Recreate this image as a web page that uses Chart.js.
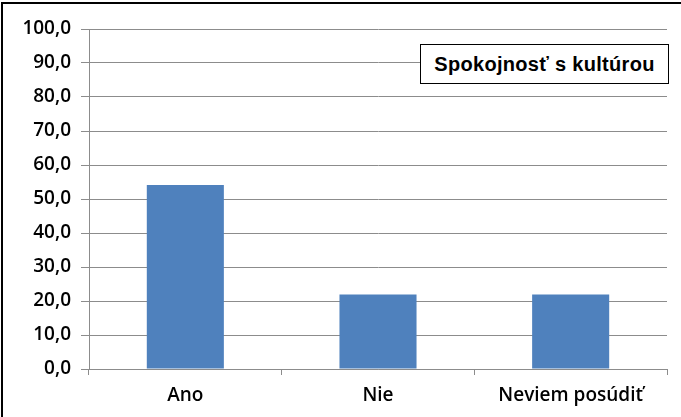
<!DOCTYPE html>
<html>
<head>
<meta charset="utf-8">
<script src="https://cdn.jsdelivr.net/npm/chart.js@4/dist/chart.umd.min.js"></script>
<style>
  html, body { margin: 0; padding: 0; background: #fff; }
  #wrap { position: relative; width: 681px; height: 417px; overflow: hidden; }
  #frame { position: absolute; left: 1px; top: 2px; width: 700px; height: 440px;
    border-left: 2px solid #000; border-top: 2px solid #000; box-sizing: border-box; }
  #legend { position: absolute; left: 420px; top: 44px; width: 249px; height: 40px;
    border: 1px solid #000; background: #fff; box-sizing: border-box;
    font: bold 20px "Liberation Sans", Arial, sans-serif; letter-spacing: 0.3px; color: #000;
    display: flex; align-items: center; justify-content: center; }
  canvas { position: absolute; left: 0; top: 0; }
</style>
</head>
<body>
<div id="wrap">
  <div id="frame"></div>
  <canvas id="chart" width="681" height="417"></canvas>
  <div id="legend">Spokojnosť s kultúrou</div>
</div>
<script>
// Survey answers, percent of respondents
const categories = ['Ano', 'Nie', 'Neviem posúdiť'];
const values = [54.1, 21.9, 21.9];
const yTicks = [0, 10, 20, 30, 40, 50, 60, 70, 80, 90, 100];

const GRID = '#8c8c8c';
const BAR = '#4f81bd';
const FONT = { family: 'Open Sans, sans-serif', size: 19, weight: '600' };

new Chart(document.getElementById('chart'), {
  type: 'bar',
  data: {
    labels: categories,
    datasets: [{ label: 'Spokojnosť s kultúrou', data: values, backgroundColor: BAR,
      categoryPercentage: 1, barPercentage: 0.4 }],
  },
  options: {
    responsive: false,
    animation: false,
    layout: { padding: { left: 0, right: 14, top: 29, bottom: 0 } },
    plugins: { legend: { display: false }, tooltip: { enabled: false } },
    scales: {
      x: {
        grid: { offset: true, drawOnChartArea: false, drawTicks: true, tickLength: 6, color: GRID },
        border: { color: GRID },
        ticks: { color: '#000', padding: 9, font: FONT },
        afterFit: (s) => { s.height = 48; },
      },
      y: {
        min: 0, max: 100,
        afterBuildTicks: (s) => { s.ticks = yTicks.map((v) => ({ value: v })); },
        grid: { color: GRID, tickLength: 8 },
        border: { color: GRID },
        ticks: { color: '#000', padding: 10, font: FONT,
          callback: (v) => v.toFixed(1).replace('.', ',') },
        afterFit: (s) => { s.width = 89; },
      },
    },
  },
});
</script>
</body>
</html>
